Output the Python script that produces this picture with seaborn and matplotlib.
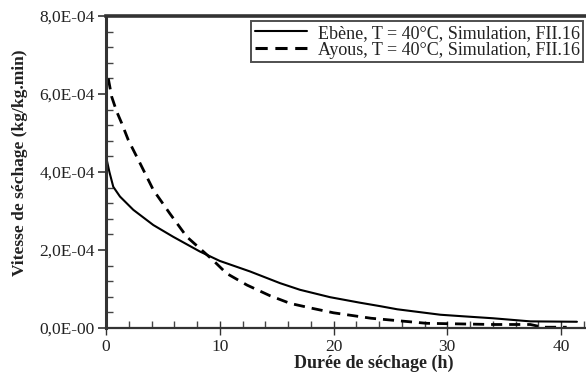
import matplotlib
matplotlib.use("Agg")
import matplotlib.pyplot as plt
from matplotlib.ticker import MultipleLocator, FixedLocator, FixedFormatter
from matplotlib.lines import Line2D
import seaborn as sns
import pandas as pd

# Ebène, T = 40°C, Simulation
ebene_t = [0.0, 0.3, 0.64, 1.23, 2.4, 4.16, 5.9, 8.26, 10.0, 12.66, 15.3,
           17.05, 19.7, 22.3, 24.1, 25.6, 29.4, 31.4, 34.0, 37.3, 41.4]
ebene_v = [4.4e-4, 4.0e-4, 3.62e-4, 3.37e-4, 3.03e-4, 2.64e-4, 2.34e-4,
           1.96e-4, 1.72e-4, 1.45e-4, 1.15e-4, 0.98e-4, 0.79e-4, 0.65e-4, 0.56e-4, 0.48e-4,
           0.34e-4, 0.30e-4, 0.25e-4, 0.17e-4, 0.16e-4]
# Ayous, T = 40°C, Simulation
ayous_t = [0.2, 0.5, 0.94, 1.38, 1.96, 3.0, 4.16, 5.6, 7.1, 9.4, 10.6, 12.4, 14.4,
           16.2, 18.2, 20.0, 23.3, 28.2, 34.0, 37.3, 38.4, 40.5]
ayous_v = [6.4e-4, 5.93e-4, 5.55e-4, 5.25e-4, 4.82e-4, 4.22e-4, 3.54e-4, 2.94e-4, 2.34e-4,
           1.74e-4, 1.40e-4, 1.10e-4, 0.83e-4, 0.63e-4, 0.50e-4, 0.39e-4, 0.25e-4, 0.12e-4,
           0.09e-4, 0.09e-4, 0.02e-4, 0.02e-4]
labels = ["Ebène, T = 40°C, Simulation, FII.16", "Ayous, T = 40°C, Simulation, FII.16"]
yticks = [0, 2e-4, 4e-4, 6e-4, 8e-4]
ytick_labels = ["0,0E-00", "2,0E-04", "4,0E-04", "6,0E-04", "8,0E-04"]
xticks = [0, 10, 20, 30, 40]

df = pd.concat([
    pd.DataFrame({"t": ebene_t, "v": ebene_v, "serie": labels[0]}),
    pd.DataFrame({"t": ayous_t, "v": ayous_v, "serie": labels[1]}),
])

sns.set_style("ticks")
plt.rcParams["font.family"] = ["Liberation Serif", "DejaVu Serif"]

W, H = 586, 376
fig = plt.figure(figsize=(W / 100, H / 100), dpi=100)
ax = fig.add_axes([106 / W, 1 - 328 / H, (600 - 106) / W, (328 - 16) / H])

sns.lineplot(data=df, x="t", y="v", hue="serie", style="serie",
             palette=["black", "black"], dashes=[(None, None), (4, 2.5)],
             ax=ax, sort=False, estimator=None, legend=False)
ax.lines[0].set_linewidth(1.5)
ax.lines[0].set_linestyle("-")
ax.lines[1].set_linewidth(2.0)
ax.lines[1].set_dashes((4, 2.5))

ax.set_xlim(0, (600 - 106) / 11.375)
ax.set_ylim(0, 8e-4)
ax.yaxis.set_major_locator(FixedLocator(yticks))
ax.yaxis.set_major_formatter(FixedFormatter(ytick_labels))
ax.yaxis.set_minor_locator(MultipleLocator(0.4e-4))
ax.xaxis.set_major_locator(FixedLocator(xticks))
ax.xaxis.set_minor_locator(MultipleLocator(2))

ax.tick_params(axis="y", which="major", direction="out", length=6, width=1.2,
               labelsize=12.5, colors="#333333", labelcolor="#222222", pad=2)
ax.tick_params(axis="y", which="minor", direction="in", length=5, width=1, colors="#444444")
ax.tick_params(axis="x", which="major", direction="inout", length=10, width=1,
               labelsize=12.5, colors="#333333", labelcolor="#222222", pad=3)
ax.tick_params(axis="x", which="minor", direction="in", length=5, width=1, colors="#444444")

for s in ["left", "top", "bottom", "right"]:
    ax.spines[s].set_color("#333333")
ax.spines["left"].set_linewidth(2.2)
ax.spines["top"].set_linewidth(2.6)
ax.spines["bottom"].set_linewidth(1.6)

ax.set_xlabel("Durée de séchage (h)", fontsize=13, fontweight="bold", color="#222222")
ax.set_ylabel("Vitesse de séchage (kg/kg.min)", fontsize=12.5, fontweight="bold", color="#222222")
ax.xaxis.set_label_coords((374 - 106) / (600 - 106), -(363 - 328) / (328 - 16))
ax.yaxis.set_label_coords(-(106 - 20) / (600 - 106), (328 - 163) / (328 - 16))
ax.xaxis.label.set_va("center")
ax.yaxis.label.set_va("center")

handles = [Line2D([], [], color="black", lw=1.5),
           Line2D([], [], color="black", lw=2.2, dashes=(4, 2.5))]
leg = fig.legend(handles, labels, loc="upper left",
                 bbox_to_anchor=(251 / W, 1 - 21 / H), bbox_transform=fig.transFigure,
                 fontsize=13, frameon=True, fancybox=False, handlelength=2.9,
                 handletextpad=0.6, labelspacing=0.0, borderpad=0.2, borderaxespad=0)
leg.get_frame().set_edgecolor("#222222")
leg.get_frame().set_linewidth(1.4)
for t in leg.get_texts():
    t.set_color("#222222")

fig.savefig("out.png", dpi=100)
